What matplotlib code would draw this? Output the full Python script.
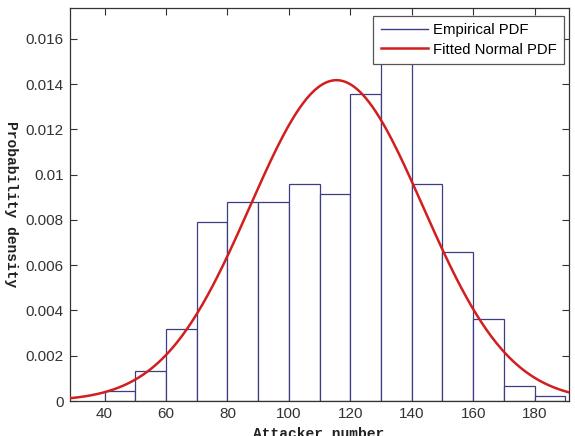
import numpy as np
import matplotlib
matplotlib.use("Agg")
import matplotlib.pyplot as plt
from matplotlib.lines import Line2D

# Histogram bins (left edges) and empirical densities
bin_left = [40, 50, 60, 70, 80, 90, 100, 110, 120, 130, 140, 150, 160, 170, 180]
bin_width = 10
density = [0.00046, 0.00133, 0.00319, 0.00789, 0.00877, 0.00877, 0.00959, 0.00916,
           0.01358, 0.01657, 0.00959, 0.00658, 0.00361, 0.00068, 0.00023]

# Fitted normal parameters
mu = 115.5
sigma = 28.15

x_ticks = [40, 60, 80, 100, 120, 140, 160, 180]
y_ticks = [0, 0.002, 0.004, 0.006, 0.008, 0.01, 0.012, 0.014, 0.016]
y_tick_labels = ["0", "0.002", "0.004", "0.006", "0.008", "0.01", "0.012", "0.014", "0.016"]
x_range = (28.6, 191.2)
y_range = (0, 0.01736)

bar_color = "#3d3d85"
curve_color = "#d21e1e"

fig = plt.figure(figsize=(5.75, 4.36), dpi=100)
ax = fig.add_axes([69.5 / 575, 35 / 436, 499.5 / 575, 393 / 436])

ax.bar(bin_left, density, width=bin_width, align="edge", facecolor="white",
       edgecolor=bar_color, linewidth=0.9, zorder=2)

xs = np.linspace(x_range[0], x_range[1], 400)
pdf = np.exp(-0.5 * ((xs - mu) / sigma) ** 2) / (sigma * np.sqrt(2 * np.pi))
ax.plot(xs, pdf, color=curve_color, linewidth=1.8, zorder=3)

ax.set_xlim(*x_range)
ax.set_ylim(*y_range)
ax.set_xticks(x_ticks)
ax.set_yticks(y_ticks)
ax.set_yticklabels(y_tick_labels)

for lab in ax.get_xticklabels() + ax.get_yticklabels():
    lab.set_fontfamily("Liberation Sans")
    lab.set_fontsize(11)
    lab.set_color("#333333")

ax.tick_params(direction="in", top=True, right=True, length=5, width=0.8,
               color="#333333", pad=4)
for s in ax.spines.values():
    s.set_color("#333333")
    s.set_linewidth(0.9)

fig.text(0.019, (436 - 204) / 436, "Probability density", rotation=270,
         ha="center", va="center", family="Liberation Mono", weight="bold",
         fontsize=10.5, color="#222222")
fig.text(319 / 575, (436 - 427) / 436, "Attacker number", ha="center", va="top",
         family="Liberation Mono", weight="bold", fontsize=10.5, color="#222222")

handles = [Line2D([], [], color=bar_color, linewidth=1.0),
           Line2D([], [], color=curve_color, linewidth=1.8)]
leg = ax.legend(handles, ["Empirical PDF", "Fitted Normal PDF"], loc="upper right",
                bbox_to_anchor=(564 / 575, (436 - 16) / 436),
                bbox_transform=fig.transFigure,
                prop={"family": "Liberation Sans", "size": 10.7},
                frameon=True, fancybox=False, framealpha=1, edgecolor="#555555",
                borderpad=0.5, labelspacing=0.35, handlelength=3.15,
                handletextpad=0.35, borderaxespad=0)
leg.get_frame().set_linewidth(0.9)
leg.set_zorder(5)

fig.savefig("out.png", dpi=100)
